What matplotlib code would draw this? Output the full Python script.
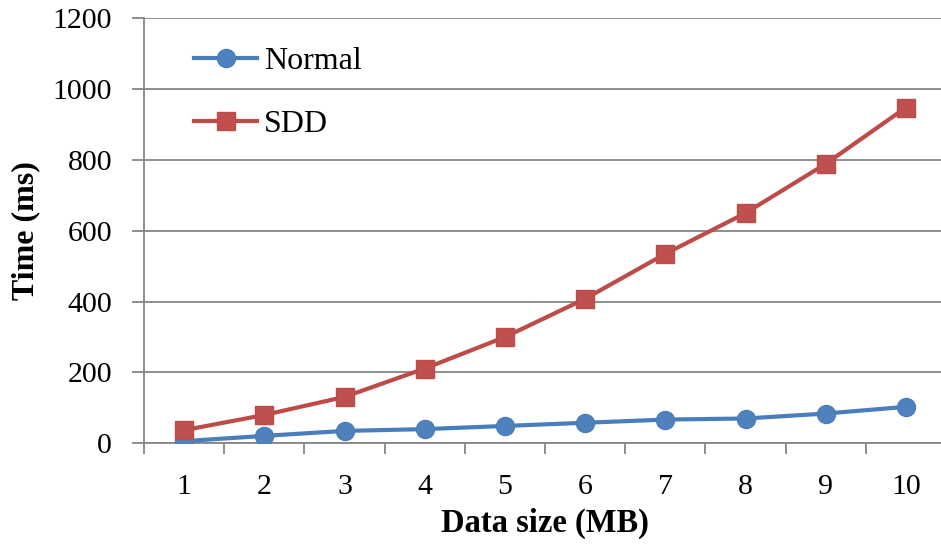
import numpy as np
import matplotlib
matplotlib.use('Agg')
import matplotlib.pyplot as plt

# Chart data
data_size = [1, 2, 3, 4, 5, 6, 7, 8, 9, 10]
normal_ms = [6, 21, 35, 40, 49, 58, 67, 70, 84, 103]
sdd_ms = [37, 80, 131, 211, 300, 408, 535, 650, 789, 948]
y_ticks = [0, 200, 400, 600, 800, 1000, 1200]

plt.rcParams['font.family'] = ['Liberation Serif', 'DejaVu Serif']

fig = plt.figure(figsize=(9.41, 5.46), dpi=100)
# axes extends a little past the right edge, like the cropped original
ax = fig.add_axes([144 / 941, 1 - 443.3 / 546, 802 / 941, (443.3 - 18.3) / 546])

ax.plot(data_size, normal_ms, color='#4A7EBB', lw=3, marker='o', ms=13,
        mfc='#4F81BD', mec='#4A7EBB', label='Normal', zorder=3)
ax.plot(data_size, sdd_ms, color='#BE4B48', lw=3, marker='s', ms=12.5,
        mfc='#C0504D', mec='#BE4B48', label='SDD', zorder=3)

ax.set_xlim(0.5, 10.5)
ax.set_ylim(0, 1200)
ax.set_yticks(y_ticks)
ax.set_xticks(data_size)
ax.set_xticks(np.arange(0.5, 11, 1), minor=True)
ax.grid(axis='y', color='#868686', lw=1.3)
ax.set_axisbelow(True)

for s in ['top', 'right']:
    ax.spines[s].set_visible(False)
for s in ['left', 'bottom']:
    ax.spines[s].set_color('#868686')
    ax.spines[s].set_linewidth(1.3)

ax.tick_params(axis='x', which='major', length=0, pad=22, labelsize=21.5)
ax.tick_params(axis='x', which='minor', length=8, width=1.3, color='#868686')
ax.tick_params(axis='y', length=9, width=1.3, color='#868686', pad=14, labelsize=21.5)

ax.set_xlabel('Data size (MB)', fontsize=23.5, fontweight='bold', labelpad=6)
ax.set_ylabel('Time (ms)', fontsize=23, fontweight='bold', labelpad=9)

ax.legend(loc='upper left', bbox_to_anchor=(0.026, 1.0), frameon=False,
          fontsize=23, handlelength=2.0, handletextpad=0.2, labelspacing=1.05)

fig.savefig('out.png', dpi=100)
